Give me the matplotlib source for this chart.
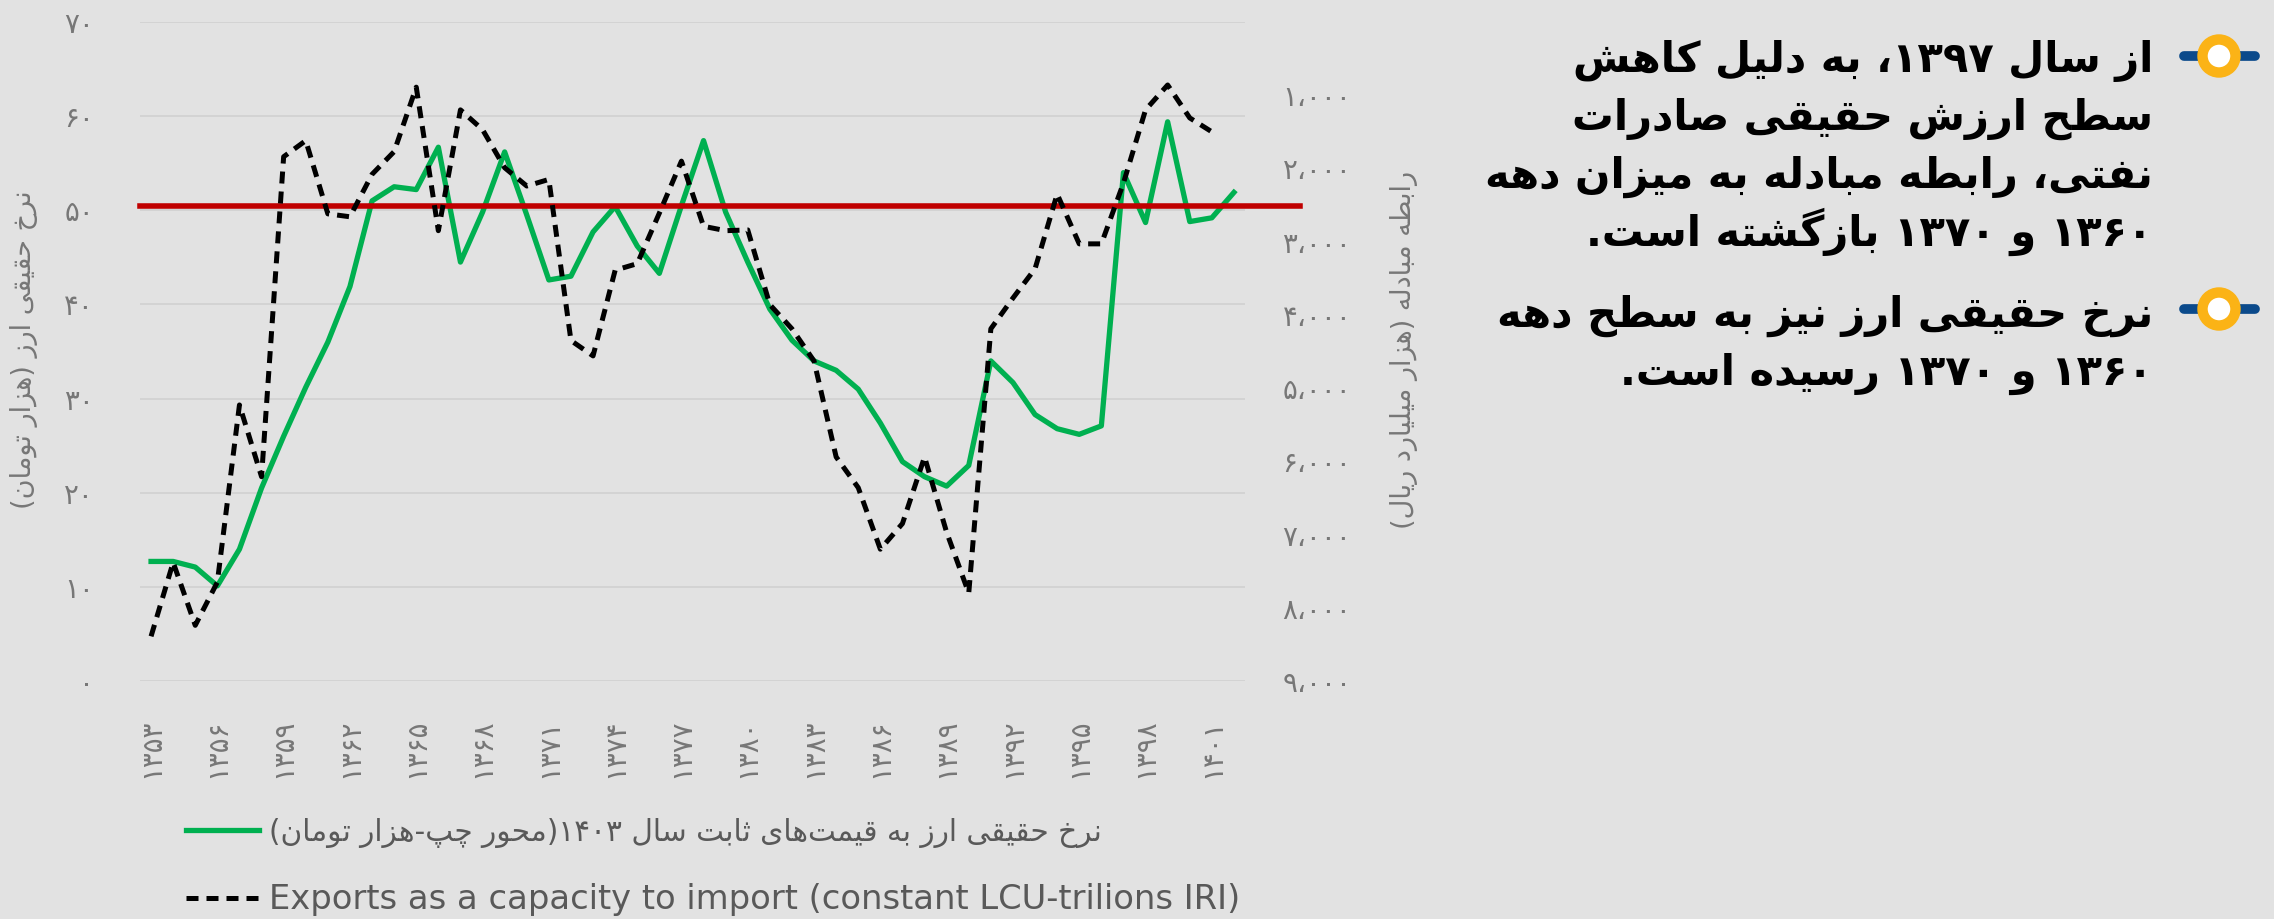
import matplotlib
matplotlib.use("Agg")
import matplotlib.pyplot as plt
from matplotlib.patches import Circle

plt.rcParams["font.family"] = ["DejaVu Sans"]

# ---- data ----
years = list(range(1353, 1403))
real_rate = [12.7, 12.7, 12.1, 10.1, 14.0, 20.5, 26.0, 31.2, 36.0, 41.9,
             51.0, 52.5, 52.2, 56.7, 44.5, 49.8, 56.2, 49.5, 42.6, 43.0,
             47.7, 50.4, 46.2, 43.3, 50.5, 57.4, 49.8, 44.5, 39.5, 36.2,
             34.0, 33.0, 31.0, 27.4, 23.3, 21.7, 20.7, 22.9, 34.0, 31.7,
             28.3, 26.8, 26.2, 27.1, 54.0, 48.7, 59.4, 48.8, 49.2, 51.9]
export_years = list(range(1353, 1402))
exports = [8390, 7380, 8240, 7650, 5230, 6210, 1840, 1620, 2620, 2660,
           2080, 1770, 890, 2850, 1200, 1470, 1990, 2240, 2150, 4350,
           4560, 3390, 3300, 2610, 1900, 2790, 2850, 2840, 3860, 4190,
           4630, 5940, 6360, 7200, 6850, 5940, 6970, 7800, 4190, 3770,
           3370, 2350, 3030, 3030, 2200, 1200, 860, 1310, 1500]
ref_level = 50.5
x_ticks = list(range(1353, 1402, 3))
left_ticks = list(range(0, 80, 10))
right_ticks = list(range(1000, 10000, 1000))

label_green = "نرخ حقیقی ارز به قیمت\u200cهای ثابت سال ۱۴۰۳(محور چپ-هزار تومان)"
label_black = "Exports as a capacity to import (constant LCU-trilions IRI)"
title_left = "نرخ حقیقی ارز (هزار تومان)"
title_right = "رابطه مبادله (هزار میلیارد ریال)"
notes = [
    ["از سال ۱۳۹۷، به دلیل کاهش", "سطح ارزش حقیقی صادرات",
     "نفتی، رابطه مبادله به میزان دهه", "۱۳۶۰ و ۱۳۷۰ بازگشته است."],
    ["نرخ حقیقی ارز نیز به سطح دهه", "۱۳۶۰ و ۱۳۷۰ رسیده است."],
]

# ---- simple Persian shaping (no shaping engine in matplotlib) ----
AR_FORMS = {
    "ا": "\ufe8d\ufe8e", "آ": "\ufe81\ufe82",
    "د": "\ufea9\ufeaa", "ذ": "\ufeab\ufeac", "ر": "\ufead\ufeae",
    "ز": "\ufeaf\ufeb0", "ژ": "\ufb8a\ufb8b", "و": "\ufeed\ufeee",
    "ب": "\ufe8f\ufe90\ufe91\ufe92", "پ": "\ufb56\ufb57\ufb58\ufb59",
    "ت": "\ufe95\ufe96\ufe97\ufe98", "ث": "\ufe99\ufe9a\ufe9b\ufe9c",
    "ج": "\ufe9d\ufe9e\ufe9f\ufea0", "چ": "\ufb7a\ufb7b\ufb7c\ufb7d",
    "ح": "\ufea1\ufea2\ufea3\ufea4", "خ": "\ufea5\ufea6\ufea7\ufea8",
    "س": "\ufeb1\ufeb2\ufeb3\ufeb4", "ش": "\ufeb5\ufeb6\ufeb7\ufeb8",
    "ص": "\ufeb9\ufeba\ufebb\ufebc", "ض": "\ufebd\ufebe\ufebf\ufec0",
    "ط": "\ufec1\ufec2\ufec3\ufec4", "ظ": "\ufec5\ufec6\ufec7\ufec8",
    "ع": "\ufec9\ufeca\ufecb\ufecc", "غ": "\ufecd\ufece\ufecf\ufed0",
    "ف": "\ufed1\ufed2\ufed3\ufed4", "ق": "\ufed5\ufed6\ufed7\ufed8",
    "ک": "\ufb8e\ufb8f\ufb90\ufb91", "گ": "\ufb92\ufb93\ufb94\ufb95",
    "ل": "\ufedd\ufede\ufedf\ufee0", "م": "\ufee1\ufee2\ufee3\ufee4",
    "ن": "\ufee5\ufee6\ufee7\ufee8", "ه": "\ufee9\ufeea\ufeeb\ufeec",
    "ی": "\ufbfc\ufbfd\ufbfe\ufbff",
}
DIGITS = "0123456789۰۱۲۳۴۵۶۷۸۹"
MIRROR = {"(": ")", ")": "("}


def shape(text):
    out = []
    i, n = 0, len(text)
    while i < n:
        c = text[i]
        if c not in AR_FORMS:
            out.append(c)
            i += 1
            continue
        prev = text[i - 1] if i > 0 else ""
        joins_prev = prev in AR_FORMS and len(AR_FORMS[prev]) == 4
        if c == "ل" and i + 1 < n and text[i + 1] == "ا":
            out.append("\ufefc" if joins_prev else "\ufefb")
            i += 2
            continue
        nxt = text[i + 1] if i + 1 < n else ""
        forms = AR_FORMS[c]
        joins_next = len(forms) == 4 and nxt in AR_FORMS
        if joins_prev and joins_next:
            out.append(forms[3])
        elif joins_prev:
            out.append(forms[1])
        elif joins_next:
            out.append(forms[2])
        else:
            out.append(forms[0])
        i += 1
    return "".join(out).replace("\u200c", "")


def rtl(text):
    """Shape and put right-to-left text into visual order."""
    s = shape(text)
    tokens = []
    i = 0
    while i < len(s):
        if s[i] in DIGITS:
            j = i
            while j < len(s) and (s[j] in DIGITS or
                                  (s[j] in "،," and j + 1 < len(s) and s[j + 1] in DIGITS)):
                j += 1
            tokens.append(s[i:j])
            i = j
        else:
            tokens.append(MIRROR.get(s[i], s[i]))
            i += 1
    return "".join(reversed(tokens))


def fa_num(v, sep=False):
    s = f"{v:,}" if sep else str(v)
    s = s.replace(",", "،")
    return s.translate(str.maketrans("0123456789", "۰۱۲۳۴۵۶۷۸۹"))


W, H = 2274, 919
fig = plt.figure(figsize=(W / 100, H / 100), dpi=100)
fig.patch.set_facecolor("#e2e2e2")

ax = fig.add_axes([140 / W, 1 - 681 / H, 1105 / W, 659 / H])
ax.set_facecolor("none")
ax2 = ax.twinx()

green, = ax.plot(years, real_rate, color="#00b050", lw=3.8, zorder=3)
ax.axhline(ref_level, xmin=0.0, xmax=1.05, color="#c00000", lw=4, zorder=4,
           clip_on=False)
black, = ax2.plot(export_years, exports, color="black", lw=3.6,
                  dashes=(2.4, 1.6), zorder=5)

ax.set_xlim(1352.5, 1402.5)
ax.set_ylim(0, 70)
ax2.set_ylim(9000, 0)

tick_color = "#777777"
ax.set_yticks(left_ticks)
ax.set_yticklabels([fa_num(v) for v in left_ticks])
ax2.set_yticks(right_ticks)
ax2.set_yticklabels([fa_num(v, sep=True) for v in right_ticks])
ax.set_xticks(x_ticks)
ax.set_xticklabels([fa_num(v) for v in x_ticks], rotation=90)

ax.tick_params(axis="y", length=0, pad=33, labelsize=20, labelcolor=tick_color)
ax.tick_params(axis="x", length=0, pad=27, labelsize=20, labelcolor=tick_color)
ax2.tick_params(axis="y", length=0, pad=27, labelsize=20, labelcolor=tick_color)
ax.grid(axis="y", color="#d0d0d0", lw=1.2)
ax.set_axisbelow(True)
for a in (ax, ax2):
    for sp in a.spines.values():
        sp.set_visible(False)

fig.text(24 / W, 1 - 350 / H, rtl(title_left), rotation=90, ha="center",
         va="center", fontsize=19.5, color=tick_color)
fig.text(1404 / W, 1 - 350 / H, rtl(title_right), rotation=90, ha="center",
         va="center", fontsize=19.5, color=tick_color)

leg = fig.legend([green, black], [rtl(label_green), label_black],
                 loc="upper left", bbox_to_anchor=(186 / W, 1 - 818 / H),
                 frameon=False, fontsize=23, handlelength=2.3,
                 handletextpad=0.3, labelspacing=1.1, borderpad=0,
                 borderaxespad=0, labelcolor="#595959")
leg.get_texts()[0].set_fontsize(21.3)
leg.get_texts()[1].set_fontsize(24.3)

# notes on the right
baselines = [[72, 130, 188, 246], [327, 385]]
for para, ys in zip(notes, baselines):
    for line, y in zip(para, ys):
        fig.text(2153 / W, 1 - y / H, rtl(line), ha="right", va="baseline",
                 fontsize=30, fontweight="bold", color="black")

# bullet icons
deco = fig.add_axes([0, 0, 1, 1], zorder=10)
deco.set_xlim(0, W)
deco.set_ylim(H, 0)
deco.axis("off")
for cy in (56, 309):
    deco.plot([2184, 2255], [cy, cy], color="#0b4a8b", lw=7,
              solid_capstyle="round", zorder=2)
    deco.add_patch(Circle((2219, cy), 16.5, facecolor="white",
                          edgecolor="#fbb316", lw=7.5, zorder=3))

fig.savefig("out.png", dpi=100, facecolor=fig.get_facecolor())
